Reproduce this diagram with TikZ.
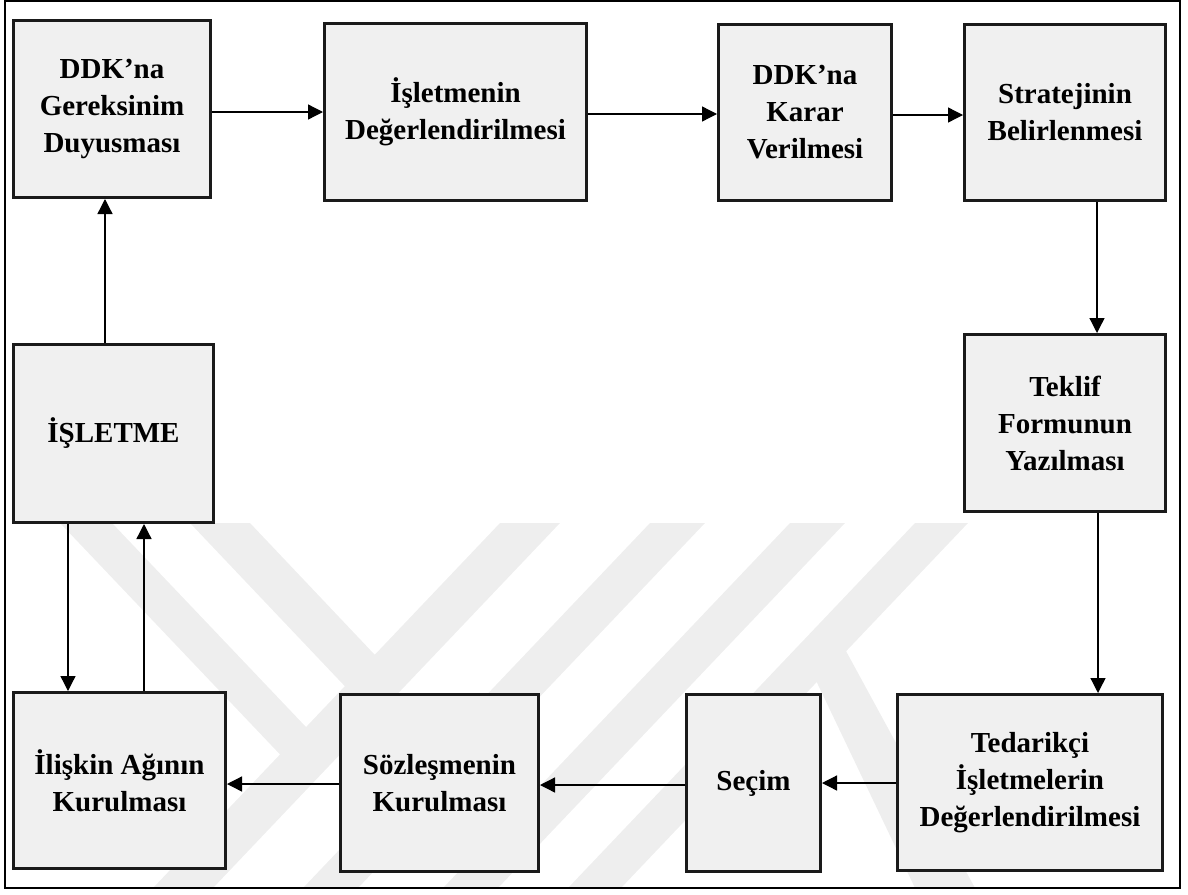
\documentclass[tikz,border=0pt]{standalone}
\usepackage{fontspec}
\setmainfont{Liberation Serif}
\usetikzlibrary{arrows.meta,calc}

\definecolor{boxfill}{HTML}{F0F0F0}
\definecolor{boxline}{HTML}{1A1A1A}
\definecolor{emblem}{HTML}{EEEEEE}

\begin{document}
\begin{tikzpicture}[x=0.5pt,y=-0.5pt,
  stepbox/.style={draw=boxline,fill=boxfill,line width=1.5pt,rectangle,
    align=center,inner sep=0pt,
    font=\fontsize{14.5}{18.5}\selectfont\bfseries},
  arr/.style={draw=black,line width=0.65pt,-{Triangle[length=7.5pt,width=7.5pt]}},
  frame/.style={draw=black,line width=1.1pt},
  band/.style={fill=emblem}]

\useasboundingbox (0,0) rectangle (1188,894);

% faint background emblem, kept inside the frame
\begin{scope}
  \clip (5,1) rectangle (1180,888);
  \fill[band] (60,523) -- (112,523) -- (306,727) -- (310,786) -- cycle;
  \fill[band] (190,523) -- (250,523) -- (375,655) -- (375,718) -- cycle;
  \fill[band] (500,523) -- (560,523) -- (213,888) -- (153,888) -- cycle;
  \fill[band] (650,523) -- (705,523) -- (358,888) -- (303,888) -- cycle;
  \fill[band] (790,523) -- (845,523) -- (498,888) -- (443,888) -- cycle;
  \fill[band] (915,523) -- (968,523) -- (621,888) -- (568,888) -- cycle;
  \fill[band] (810,668) -- (840,640) -- (975,888) -- (915,888) -- cycle;
\end{scope}

\draw[frame] (5,1) rectangle (1180,888);

% process steps
\node[stepbox,minimum width=98.5pt,minimum height=88.5pt] (b1) at (112,109)
  {DDK’na\\Gereksinim\\Duyusması};
\node[stepbox,minimum width=131pt,minimum height=88.5pt] (b2) at (455.5,112)
  {İşletmenin\\Değerlendirilmesi};
\node[stepbox,minimum width=86.5pt,minimum height=88pt] (b3) at (805,112.5)
  {DDK’na\\Karar\\Verilmesi};
\node[stepbox,minimum width=100.5pt,minimum height=88pt] (b4) at (1065,112.5)
  {Stratejinin\\Belirlenmesi};
\node[stepbox,minimum width=100.5pt,minimum height=88.5pt] (b5) at (1065,423)
  {Teklif\\Formunun\\Yazılması};
\node[stepbox,minimum width=100pt,minimum height=89pt] (b6) at (113.5,433.5)
  {İŞLETME};
\node[stepbox,minimum width=106pt,minimum height=88pt] (b7) at (119.5,780.5)
  {İlişkin Ağının\\Kurulması};
\node[stepbox,minimum width=99pt,minimum height=88.5pt] (b8) at (439.5,783)
  {Sözleşmenin\\Kurulması};
\node[stepbox,minimum width=67pt,minimum height=88.5pt] (b9) at (753.5,783)
  {Seçim};
\node[stepbox,minimum width=132.5pt,minimum height=88pt] (b10) at (1030,782.5)
  {Tedarikçi\\İşletmelerin\\Değerlendirilmesi};

% top row, left to right
\draw[arr] ($(b1.east)+(0,3)$) coordinate (s1) -- (s1 -| b2.west);
\draw[arr] ($(b2.east)+(0,2)$) coordinate (s2) -- (s2 -| b3.west);
\draw[arr] ($(b3.east)+(0,2.5)$) coordinate (s3) -- (s3 -| b4.west);
% right column, downwards
\draw[arr] ($(b4.south)+(32,0)$) coordinate (s4) -- (s4 |- b5.north);
\draw[arr] ($(b5.south)+(33,0)$) coordinate (s5) -- (s5 |- b10.north);
% bottom row, right to left
\draw[arr] ($(b10.west)+(0,0.5)$) coordinate (s6) -- (s6 -| b9.east);
\draw[arr] ($(b9.west)+(0,2)$) coordinate (s7) -- (s7 -| b8.east);
\draw[arr] ($(b8.west)+(0,1)$) coordinate (s8) -- (s8 -| b7.east);
% left column
\draw[arr] ($(b6.south)+(-45.5,0)$) coordinate (s9) -- (s9 |- b7.north);
\draw[arr] ($(b7.north)+(24.5,0)$) coordinate (s10) -- (s10 |- b6.south);
\draw[arr] ($(b6.north)+(-8.5,0)$) coordinate (s11) -- (s11 |- b1.south);

\end{tikzpicture}
\end{document}
